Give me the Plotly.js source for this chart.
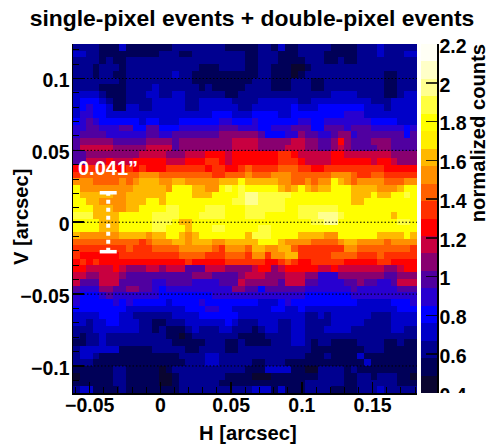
<!DOCTYPE html>
<html><head><meta charset="utf-8">
<script src="https://cdn.plot.ly/plotly-3.0.0.min.js"></script>
<style>html,body{margin:0;padding:0;background:#fff}#c{width:486px;height:446px;position:relative}#clip{position:absolute;left:439px;top:393px;width:47px;height:12px;background:#fff}</style>
</head><body><div id="c"></div><div id="clip"></div>
<script>
// Colour-band index per cell, top row first.
const rowsLeft = [
"22221113111111122222222111","33221111111112221122222222","22221211222222222222222222","22212221222222222221112222",
"22212211222222232211111111","22222221222222222211111111","22221111222232222221211111","33332111222332233222222112",
"34443211222233333223333322","34544311332233333223333332","35544333333333333333344433","45654444443443334444445544",
"55665556644664445555556665","56666555555665566666667777","67777766666777767777777788","68888877777888867777777788",
"66777777778888777888999899","66888988899999888999aa9899","99aaaa99a9a999aaaaaa9aa99a","abbbbbbbbbcccbbbbbbbbaabbb",
"cccbbbbcbcdddccddcccccddde","eccccccccdddddceeeddccefef","edddddccddddddeeeedddeeeef","eeddccccdddeedeeeeeeeeeeff",
"eeedddccddeeeeffeeeefffeee","fffddddeeeeeffffeeeffffeee","eeeedddeeeeefffeddeeeeeeee","eeeedddeeeeeffeeedeeeffeee",
"dccccccddddcddeedcdeeeeeee","bbbbbbbbbbabcccddcdddccddd","aaaaaaaabaaabbbbcccccbaccc","a999999aaaaaaaaabbbbaaabbb",
"9a9a9999999999999a99999aaa","99888898777887888666888777","88778887666666666677766667","86668886666655666655556668",
"65557766776654555555555577","54445655555554444444455555","54444454544444344445444444","44444444333333333444554433",
"33334443322222233334444443","33233443332211222333333432","22233333332212111232223322","21223222222222110122222221",
"11223222222222211111222112","23333331111122222112222112","23321111111111112222332222","22211111111111111222332222",
"11111122111110122222222222","01111122111110012222222111","11111122111110012222221111","23311112111111112222222222"];
const rowsRight = [
"11221311222221111222322222","11222111222211111222322233","11222111122211211222222222","11221110012222222222222222",
"11221110122222222222211222","12221112221122222222211222","22221112221122222222211222","22222222222223333222211233",
"22333333223333333332223333","23333334333444444433323333","34444334444444455533333333","45444444554455555554444333",
"55445556664466656665555545","77644455766556775666666646","88777778877667976667776666","88777788877667876666776666",
"99999aa9888889988888887777","99999aaa988889999998998777","baaaabbbaa99aaaaaaaaa99999","cbbbcccbbbbbbcccbaabbaaaaa",
"dddddccbbcbccedcbccccbbbcc","eeeeedcdedcddeeeddddcccdee","ggfffffeeeeeeeeedddeddeefe","ggffffeeeeeeeeeeddeeeeeeee",
"ffffffeeffffffeeeeeeeeeeee","fffeeeeefffgggfeeeeeeedeee","eeeeeeeeeeffggeeeeeeeeeffe","eeffeeeeeeeeeeeeeeeeeeeeee",
"dfffeeeeddddcceeeeeedddded","ddeeedccccbbbbcddccccbcccc","bddccddbaaaaaaaccbbbbbbbba","accaccddaaaaabbbbaaabaaaaa",
"aaa99aba99aaaaa99999aa9999","78997899999889888888877899","88877788877555777777766777","77777688866555566766556888",
"66466666655555556555555666","55555555544444445555555555","44333454444444444333334445","33334433433333333333333444",
"33333333322323333332223333","22333223322223333322223333","21233223322233332222223322","11122223322222222222222222",
"11112223321221111222211211","22222222221111111122211111","22222222211121111311111111","21122211111111111131111111",
"11133331100222212111111111","10001111111222211221222110","11111111122222211222222111","23331311122221111222322222"];
// '_' is the band that the main yellow sits just above
const levelChars = "0123456789abcd_efghi";
const bandColors = ["#0a0530","#000058","#000090","#0000c8","#0000ff","#2800d0","#5000a0","#880070","#c80040","#ff0000",
"#ff3000","#ff6000","#ff9000","#ffb800","#ffee00","#ffff00","#ffff40","#ffff90","#ffffc8","#fffff5"];
const zMin = 0.4, zMax = 2.2;
const xRange = [-0.0618, 0.1814], yRange = [-0.1188, 0.124];
const cbTicks = [0.4,0.6,0.8,1,1.2,1.4,1.6,1.8,2,2.2];
const cbLabels = ["0.4","0.6","0.8","1","1.2","1.4","1.6","1.8","2","2.2"];
const hTicks = [-0.05,0,0.05,0.1,0.15], hLabels = ["\u22120.05","0","0.05","0.1","0.15"];
const vTicks = [-0.1,-0.05,0,0.05,0.1], vLabels = ["\u22120.1","\u22120.05","0","0.05","0.1"];
const guideV = [-0.1,-0.05,0,0.05,0.1];
const widthH = -0.0369, widthCap = 0.006, widthHalf = 0.0205;
const labelH = -0.0368, labelV = 0.038, labelText = "0.041\u201d";

const band = (zMax - zMin) / bandColors.length;
const zTop = rowsLeft.map((r,i) => (r + rowsRight[i]).split("").map(ch => zMin + band * (levelChars.indexOf(ch) + 0.5)));
const z = zTop.slice().reverse();
const nC = z[0].length, nR = z.length;
const colorscale = [];
bandColors.forEach((c,i) => { colorscale.push([i/bandColors.length, c]); colorscale.push([(i+1)/bandColors.length, c]); });
const F = "Liberation Sans, Arial, sans-serif";
const tf = {family:F, size:19.5, color:"#000", weight:700};
const tt = {family:F, size:20.2, color:"#000", weight:700};

const heat = {type:"heatmap", z, x0:xRange[0]+(xRange[1]-xRange[0])/nC/2, dx:(xRange[1]-xRange[0])/nC,
  y0:yRange[0]+(yRange[1]-yRange[0])/nR/2, dy:(yRange[1]-yRange[0])/nR,
  zmin:zMin, zmax:zMax, colorscale, zsmooth:false, hoverinfo:"skip", showscale:false};
const scaleBar = {type:"heatmap", xaxis:"x2", yaxis:"y2", z:bandColors.map((c,i)=>[zMin+band*(i+0.5)]), x0:0, dx:1,
  y0:zMin+band/2, dy:band, zmin:zMin, zmax:zMax, colorscale, hoverinfo:"skip", showscale:false};
const capTop = {x:[widthH-widthCap,widthH+widthCap], y:[widthHalf,widthHalf], mode:"lines", line:{color:"#fff",width:3.5}, hoverinfo:"skip", showlegend:false};
const capBot = {x:[widthH-widthCap,widthH+widthCap], y:[-widthHalf,-widthHalf], mode:"lines", line:{color:"#fff",width:3.5}, hoverinfo:"skip", showlegend:false};
const stem = {x:[widthH,widthH], y:[-widthHalf,widthHalf], mode:"lines", line:{color:"#fff",width:4,dash:"4px,4px"}, hoverinfo:"skip", showlegend:false};

const shapes = guideV.map(v => ({type:"line", xref:"x domain", x0:0, x1:1, yref:"y", y0:v, y1:v, line:{color:"#000",width:1,dash:"1.5px,2px"}, layer:"above"}));

const W = 364; // plot span from left axis to scale axis
const layout = {width:486, height:446, margin:{l:73,r:49,t:44,b:53}, paper_bgcolor:"#fff", plot_bgcolor:"#fff", showlegend:false,
  title:{text:"single-pixel events + double-pixel events", font:{family:F,size:22.9,color:"#000",weight:700}, x:252/486, xref:"container", xanchor:"center", y:1-18/446, yref:"container", yanchor:"middle"},
  xaxis:{domain:[0,344/W], range:xRange, tickmode:"array", tickvals:hTicks, ticktext:hLabels, ticks:"inside", ticklen:11, tickwidth:1.5, tickcolor:"#000", tickfont:tf, ticklabelstandoff:-6,
    showgrid:false, zeroline:false, showline:true, linecolor:"#000", linewidth:1.5,
    minor:{dtick:0.01, ticks:"inside", ticklen:6, tickwidth:1, tickcolor:"#000", showgrid:false}},
  yaxis:{range:yRange, tickmode:"array", tickvals:vTicks, ticktext:vLabels, ticks:"inside", ticklen:11, tickwidth:1.5, tickcolor:"#000", tickfont:tf, ticklabelstandoff:-2, ticklabelshift:2,
    showgrid:false, zeroline:false, showline:true, linecolor:"#000", linewidth:1.5,
    minor:{dtick:0.01, ticks:"inside", ticklen:6, tickwidth:1, tickcolor:"#000", showgrid:false}},
  xaxis2:{domain:[348/W,1], anchor:"y2", range:[-0.5,0.5], showticklabels:false, ticks:"", showgrid:false, zeroline:false},
  yaxis2:{domain:[0,1], anchor:"x2", side:"right", range:[zMin,zMax], tickmode:"array", tickvals:cbTicks, ticktext:cbLabels, ticks:"inside", ticklen:11, tickwidth:1.5, tickcolor:"rgba(0,0,0,0.8)", tickfont:tf, ticklabelstandoff:-3, ticklabelshift:2,
    showgrid:false, zeroline:false, showline:true, linecolor:"#000", linewidth:1.5},
  shapes,
  annotations:[
    {x:labelH, y:labelV, xref:"x", yref:"y", text:labelText, showarrow:false, font:{family:F,size:20,color:"#fff",weight:700}},
    {x:(478-73)/W, y:1.005, xref:"paper", yref:"paper", xanchor:"center", yanchor:"top", text:"normalized counts", textangle:-90, showarrow:false, font:tt},
    {x:(21-73)/W, y:(393-217)/349, xref:"paper", yref:"paper", xanchor:"center", yanchor:"middle", text:"V [arcsec]", textangle:-90, showarrow:false, font:tt},
    {x:(248-73)/W, y:(393-433)/349, xref:"paper", yref:"paper", xanchor:"center", yanchor:"middle", text:"H [arcsec]", showarrow:false, font:tt}
  ]};
Plotly.newPlot("c",[heat,scaleBar,capTop,capBot,stem],layout,{displayModeBar:false,staticPlot:true});
</script></body></html>
